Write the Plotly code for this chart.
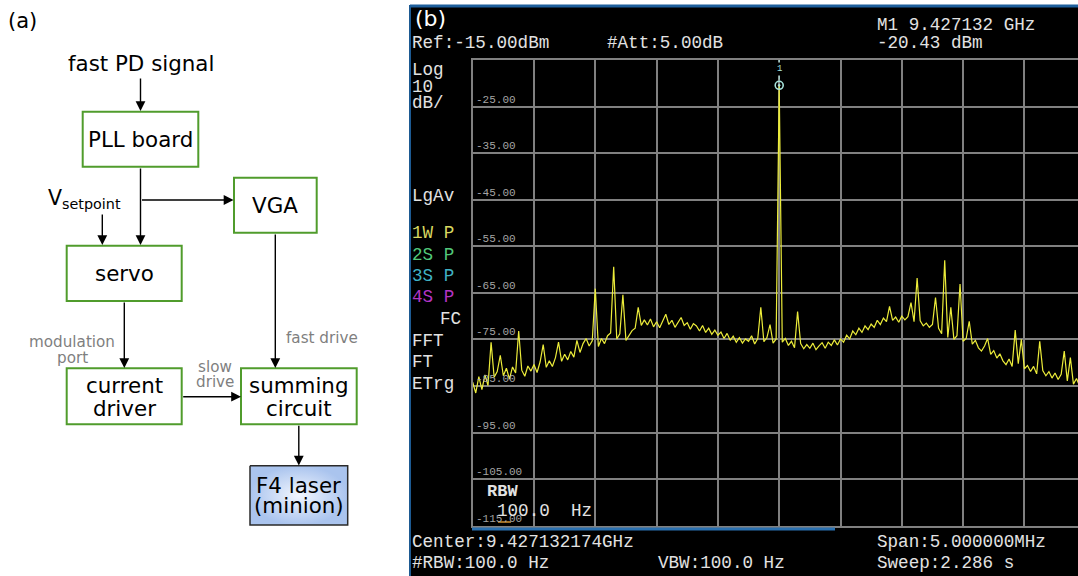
import numpy as np
import plotly.graph_objects as go

# ---------------- data (spectrum analyser trace) ----------------
center_ghz = 9.427132174
span_mhz = 5.0
n_points = 201
ref_level_dbm = -15.0
db_per_div = 10.0
n_div = 10

trace_dbm = [
    -84.2, -86.5, -83.0, -85.8, -82.6, -84.9, -75.6, -83.1, -81.9, -78.4,
    -82.8, -81.2, -83.5, -80.9, -82.2, -73.2, -81.6, -82.9, -80.7, -81.8,
    -80.4, -82.1, -79.8, -76.1, -81.0, -79.6, -80.8, -78.9, -75.6, -79.7,
    -78.2, -79.4, -77.6, -78.8, -75.2, -77.8, -75.9, -74.8, -76.4, -75.3,
    -64.1, -76.5, -74.8, -75.9, -74.2, -73.6, -59.4, -74.9, -73.8, -65.4,
    -75.2, -74.0, -73.1, -72.6, -68.1, -72.0, -70.8, -71.9, -70.6, -72.3,
    -71.2, -72.5, -71.0, -69.6, -71.8, -70.9, -72.4, -71.3, -70.3, -72.0,
    -71.4, -72.8, -71.6, -72.1, -73.2, -72.0, -73.5, -72.6, -73.9, -73.0,
    -74.1, -73.4, -74.8, -73.7, -75.2, -74.3, -75.6, -74.6, -75.8, -74.9,
    -75.4, -74.2, -76.0, -74.8, -68.1, -75.5, -74.6, -71.8, -75.8, -74.9,
    -20.43,
    -75.6, -74.8, -76.3, -75.4, -76.8, -69.0, -75.9, -77.0, -76.1, -76.9,
    -75.8, -77.2, -76.4, -75.7, -76.9, -75.6, -76.3, -75.1, -76.2, -74.9,
    -75.6, -74.1, -74.9, -73.2, -74.0, -72.6, -73.5, -72.1, -72.9, -71.7,
    -72.4, -70.9, -71.8, -70.4, -71.2, -67.9, -70.9, -70.2, -71.3, -70.0,
    -70.8, -70.1, -67.1, -71.2, -61.8, -71.0, -72.1, -71.5, -72.4, -71.8,
    -66.0, -72.6, -73.8, -58.0, -74.6, -68.1, -75.0, -74.2, -63.1, -75.4,
    -74.8, -71.1, -76.0, -75.2, -76.8, -77.5, -76.4, -74.8, -78.2, -77.4,
    -79.0, -78.1, -79.6, -80.4, -79.2, -80.8, -73.0, -80.2, -75.0, -81.3,
    -80.6, -81.9, -80.8, -82.4, -75.4, -81.7, -82.8, -81.9, -83.3, -82.2,
    -83.6, -82.5, -77.5, -83.9, -78.9, -84.6, -83.4, -85.0, -84.2, -85.3,
]

marker_offset_mhz = 0.0
marker_dbm = -20.43
marker_label = "1"

grid_label_values = [-25, -35, -45, -55, -65, -75, -85, -95, -105, -115]
grid_label_texts = ["-25.00", "-35.00", "-45.00", "-55.00", "-65.00",
                    "-75.00", "-85.00", "-95.00", "-105.00", "-115.00"]

# sweep points of the analyser (offset from centre, MHz)
freq_offset_mhz = np.linspace(-span_mhz / 2, span_mhz / 2, n_points)

# ---------------- figure geometry ----------------
W, H = 1078, 576


def px(x):
    return x / W


def py(y):
    return 1 - y / H


fig = go.Figure()

fig.add_trace(go.Scatter(
    x=freq_offset_mhz, y=trace_dbm, mode="lines",
    line=dict(color="#ecec3a", width=1.2), xaxis="x", yaxis="y",
    showlegend=False, hoverinfo="skip"))

fig.add_trace(go.Scatter(
    x=[marker_offset_mhz], y=[marker_dbm], mode="markers",
    marker=dict(symbol="circle-open-dot", size=8, color="#a8e4dc",
                line=dict(width=1.6, color="#a8e4dc")),
    xaxis="x", yaxis="y", showlegend=False, hoverinfo="skip"))

# ---------------- block diagram (left panel) ----------------
GREEN = "#509c2c"
boxes = {
    "PLL board": (82.7, 111.7, 198.3, 166.7),
    "VGA": (234.0, 177.7, 316.7, 232.7),
    "servo": (66.7, 245.7, 181.7, 301.0),
    "current driver": (66.7, 368.3, 181.7, 424.3),
    "summing circuit": (241.0, 368.3, 356.7, 424.3),
}
shapes = []
for name, (x0, y0, x1, y1) in boxes.items():
    shapes.append(dict(type="rect", xref="x2", yref="y2", x0=x0, y0=y0,
                       x1=x1, y1=y1, line=dict(color=GREEN, width=2),
                       fillcolor="white", layer="above"))

lx0, ly0, lx1, ly1 = 250.0, 465.7, 347.7, 525.0
fig.add_trace(go.Scatter(
    x=[lx0, lx1, lx1, lx0, lx0], y=[ly0, ly0, ly1, ly1, ly0],
    mode="lines", fill="toself",
    fillgradient=dict(type="radial",
                      colorscale=[[0, "#f2f6fe"], [1, "#aac4ee"]]),
    line=dict(color="#2a2a2a", width=1.5), xaxis="x2", yaxis="y2",
    showlegend=False, hoverinfo="skip"))

annotations = []
FONT = "DejaVu Sans"
BIG = 21.4


def dtext(t, x, y, size=BIG, color="black", xanchor="center"):
    annotations.append(dict(text=t, x=x, y=y, xref="x2", yref="y2",
                            showarrow=False, xanchor=xanchor, yanchor="middle",
                            font=dict(family=FONT, size=size, color=color)))


dtext("(a)", 6, 21, size=21, xanchor="left")
dtext("fast PD signal", 140.5, 63)
dtext("PLL board", 140.5, 139)
dtext("VGA", 275.3, 205)
dtext("V<sub>setpoint</sub>", 46, 199, size=20.5, xanchor="left")
dtext("servo", 124.2, 273)
dtext("current", 124.2, 385)
dtext("driver", 124.2, 408)
dtext("summing", 298.8, 385)
dtext("circuit", 298.8, 408)
dtext("F4 laser", 298.8, 485)
dtext("(minion)", 298.8, 505)
GREY = "#7f7f7f"
dtext("modulation", 72, 342, size=15.2, color=GREY)
dtext("port", 72, 358, size=15.2, color=GREY)
dtext("fast drive", 321.7, 338, size=15.2, color=GREY)
dtext("slow", 215, 367, size=15.2, color=GREY)
dtext("drive", 215, 382, size=15.2, color=GREY)

arrows = [
    ((140.5, 77), (140.5, 111)),
    ((140.5, 167), (140.5, 245)),
    ((140.5, 200), (233.5, 200)),
    ((102.3, 213), (102.3, 245)),
    ((275.3, 233), (275.3, 368)),
    ((124.3, 301), (124.3, 368)),
    ((181.7, 396.7), (241.0, 396.7)),
    ((298.8, 424.3), (298.8, 465.5)),
]
for (tx, ty), (hx, hy) in arrows:
    annotations.append(dict(text="", x=hx, y=hy, ax=tx, ay=ty,
                            xref="x2", yref="y2", axref="x2", ayref="y2",
                            showarrow=True, arrowhead=2, arrowsize=1.4,
                            arrowwidth=1.4, arrowcolor="black", standoff=0))

# ---------------- spectrum analyser screen ----------------
shapes.insert(0, dict(type="rect", xref="paper", yref="paper",
                      x0=px(410), x1=px(1080), y0=py(577), y1=py(6),
                      fillcolor="black", line=dict(color="#1d5a92", width=2),
                      layer="below"))
shapes.append(dict(type="line", xref="paper", yref="paper",
                   x0=px(410), x1=px(1080), y0=py(6), y1=py(6),
                   line=dict(color="#1e5f9c", width=3), layer="below"))
shapes.append(dict(type="line", xref="paper", yref="paper",
                   x0=px(472), x1=px(835), y0=py(529), y1=py(529),
                   line=dict(color="#2a70b0", width=3), layer="above"))
shapes.append(dict(type="line", xref="paper", yref="paper",
                   x0=px(498), x1=px(511), y0=py(522), y1=py(522),
                   line=dict(color="#d09030", width=1.5), layer="above"))
# marker stem from top graticule to marker
shapes.append(dict(type="line", xref="x", yref="y",
                   x0=marker_offset_mhz, x1=marker_offset_mhz,
                   y0=ref_level_dbm, y1=marker_dbm + 1.2,
                   line=dict(color="#a8e4dc", width=1), layer="above"))

MONO = "Liberation Mono"
WHITE = "#e2e2e2"


def stext(t, x, y, color=WHITE, size=17.6, family=MONO):
    annotations.append(dict(text=t, x=px(x), y=py(y), xref="paper",
                            yref="paper", showarrow=False, xanchor="left",
                            yanchor="middle",
                            font=dict(family=family, size=size, color=color)))


stext("(b)", 413, 18, color="white", size=22, family="DejaVu Sans")
stext("Ref:-15.00dBm", 410, 43)
stext("#Att:5.00dB", 605, 43)
stext("M1 9.427132 GHz", 875, 25)
stext("-20.43 dBm", 875, 43)
stext("Log", 410, 70)
stext("10", 410, 87)
stext("dB/", 410, 103)
stext("LgAv", 410, 196)
stext("1W P", 410, 233, color="#d8d860")
stext("2S P", 410, 255, color="#52c87a")
stext("3S P", 410, 276, color="#40b2c4")
stext("4S P", 410, 297, color="#b434c4")
stext("FC", 438, 319)
stext("FFT", 410, 341)
stext("FT", 410, 362)
stext("ETrg", 410, 384)
stext("Center:9.427132174GHz", 410, 542)
stext("#RBW:100.0 Hz", 410, 563)
stext("VBW:100.0 Hz", 656, 563)
stext("Span:5.000000MHz", 875, 542)
stext("Sweep:2.286 s", 875, 563)
stext("<b>RBW</b>", 485, 491, size=17)

for v, t in zip(grid_label_values, grid_label_texts):
    annotations.append(dict(text=t, x=0.0, y=v, xref="x domain", yref="y",
                            showarrow=False, xanchor="left", yanchor="bottom",
                            xshift=1, yshift=-1,
                            font=dict(family=MONO, size=11, color="#a4a4a4")))

stext("100.0\u00a0\u00a0Hz", 495, 511)

annotations.append(dict(text=marker_label, x=marker_offset_mhz,
                        y=ref_level_dbm, xref="x", yref="y", showarrow=False,
                        xanchor="center", yanchor="top", yshift=-2,
                        font=dict(family=MONO, size=9, color="#a8e4dc"),
                        bgcolor="black"))

# x range: left graticule edge to right edge of the photographed screen
x_left = -span_mhz / 2
x_right = x_left + span_mhz * (W - 472.7) / 613.0
y_bottom = ref_level_dbm - n_div * db_per_div

fig.update_layout(
    width=W, height=H, margin=dict(l=0, r=0, t=0, b=0),
    paper_bgcolor="white", plot_bgcolor="rgba(0,0,0,0)",
    shapes=shapes, annotations=annotations,
    xaxis=dict(domain=[px(472.7), 1.0], range=[x_left, x_right],
               tick0=0, dtick=span_mhz / 10, showgrid=True,
               gridcolor="#808080", gridwidth=1.6, zeroline=False,
               showticklabels=False, ticks="", showline=True, mirror=True,
               linecolor="#808080", linewidth=2, anchor="y"),
    yaxis=dict(domain=[py(525.7), py(60)], range=[y_bottom, ref_level_dbm],
               tick0=ref_level_dbm, dtick=db_per_div, showgrid=True,
               gridcolor="#808080", gridwidth=1.6, zeroline=False,
               showticklabels=False, ticks="", showline=True, mirror=False,
               linecolor="#808080", linewidth=2, anchor="x"),
    xaxis2=dict(domain=[0, px(400)], range=[0, 400], visible=False,
                anchor="y2"),
    yaxis2=dict(domain=[0, 1], range=[H, 0], visible=False, anchor="x2"),
)

fig.write_html("out.html")
